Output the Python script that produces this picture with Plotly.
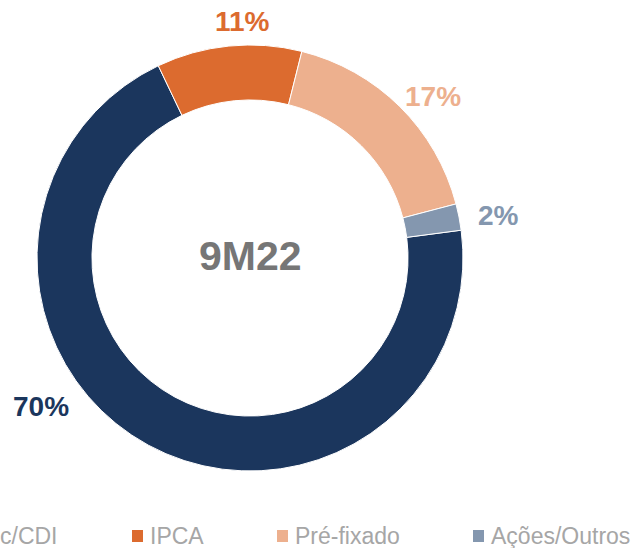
import plotly.graph_objects as go

# dados
categorias = ['Pós-fixado c/CDI', 'IPCA', 'Pré-fixado', 'Ações/Outros']
valores = [70, 11, 17, 2]
cores = ['#1B365D', '#DC6B2F', '#EDB08E', '#8497AF']
rotulos = ['70%', '11%', '17%', '2%']
titulo_centro = '9M22'

# posição dos rótulos de % (px)
rot_x = [41, 242, 433, 498]
rot_y = [406, 21, 96, 216]
# legenda manual: início do texto de cada item (px)
leg_x = [60, 148, 293, 489]
leg_y = 536

W, H = 635, 548
fonte = 'Liberation Sans, Arial, sans-serif'


def px(x):
    return x / W


def py(y):
    return 1 - y / H


fig = go.Figure()
fig.add_trace(go.Pie(
    labels=categorias,
    values=valores,
    hole=0.742,
    sort=False,
    direction='clockwise',
    rotation=82.5,
    marker=dict(colors=cores, line=dict(color='white', width=1)),
    textinfo='none',
    hoverinfo='label+percent',
    domain=dict(x=[px(37), px(463)], y=[py(471), py(45)]),
))

for txt, cor, x, y in zip(rotulos, cores, rot_x, rot_y):
    fig.add_annotation(x=px(x), y=py(y), xref='paper', yref='paper', text=f'<b>{txt}</b>',
                       xanchor='center', yanchor='middle', showarrow=False,
                       font=dict(family=fonte, size=28, color=cor))

fig.add_annotation(x=px(250), y=py(256), xref='paper', yref='paper',
                   text=f'<b>{titulo_centro}</b>', xanchor='center', yanchor='middle',
                   showarrow=False, font=dict(family=fonte, size=41, color='#767676'))

# legenda (o primeiro item fica cortado na borda esquerda, como no original)
for i, (nome, cor, x) in enumerate(zip(categorias, cores, leg_x)):
    if i == 0:
        fig.add_annotation(x=px(x), y=py(leg_y), xref='paper', yref='paper', text='c/CDI',
                           xanchor='right', yanchor='middle', showarrow=False,
                           font=dict(family=fonte, size=23, color='#A6A6A6'))
        continue
    fig.add_shape(type='rect', xref='paper', yref='paper',
                  x0=px(x - 16), x1=px(x - 5), y0=py(leg_y + 6), y1=py(leg_y - 6),
                  fillcolor=cor, line=dict(width=0))
    fig.add_annotation(x=px(x), y=py(leg_y), xref='paper', yref='paper', text=nome,
                       xanchor='left', yanchor='middle', showarrow=False,
                       font=dict(family=fonte, size=23, color='#A6A6A6'))

fig.update_layout(
    width=W, height=H,
    margin=dict(l=0, r=0, t=0, b=0),
    paper_bgcolor='white',
    plot_bgcolor='white',
    showlegend=False,
)

fig.write_html('out.html', config={'displayModeBar': False},
               post_script="document.body.style.margin='0px';")
